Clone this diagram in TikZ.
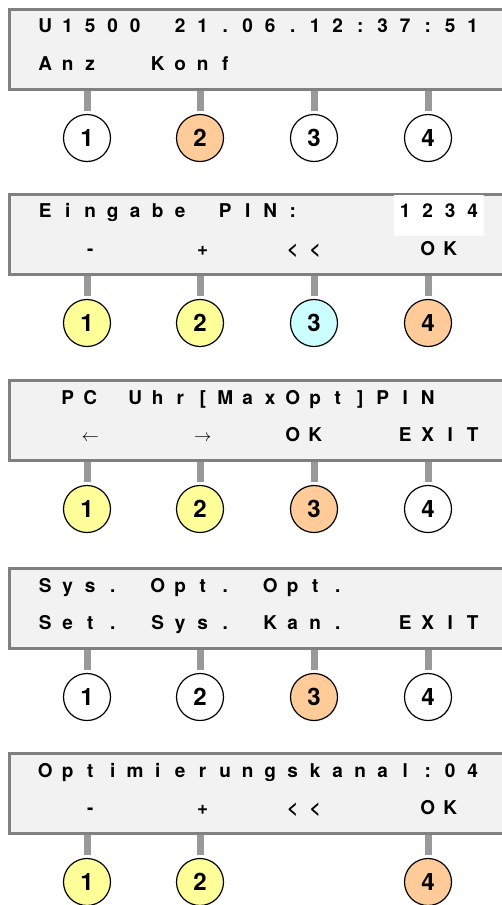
\documentclass[tikz,border=0pt]{standalone}
\usepackage{fontspec}
\setmainfont{TeX Gyre Heros}
\definecolor{lcdfill}{HTML}{F2F2F2}
\definecolor{lcdframe}{HTML}{808080}
\definecolor{stemgray}{HTML}{999999}
\definecolor{kyellow}{HTML}{FFFF99}
\definecolor{korange}{HTML}{FFCC99}
\definecolor{kcyan}{HTML}{CCFFFF}
\makeatletter
\def\lcd#1{\lcd@loop#1\relax}
\def\lcd@loop#1{\ifx\relax#1\else\lcd@cell{#1}\expandafter\lcd@loop\fi}
\def\lcd@cell#1{\ifx_#1\makebox[22.5pt]{}\else\makebox[22.5pt]{#1}\fi}
\makeatother
\def\la{$\leftarrow$}
\def\ra{$\rightarrow$}
\tikzset{
  lcdbox/.style={draw=lcdframe, fill=lcdfill, line width=3pt, minimum width=510pt, minimum height=80pt, anchor=north west, inner sep=0pt},
  lcdtext/.style={anchor=base west, inner sep=0pt, font=\fontsize{19}{19}\selectfont\bfseries},
  keybtn/.style={circle, draw=black, line width=1.2pt, minimum size=47pt, inner sep=0pt, font=\fontsize{24}{24}\selectfont\bfseries},
  stemline/.style={draw=stemgray, line width=7pt, shorten >=3pt},
  pinback/.style={fill=white, draw=none, inner sep=0pt, anchor=north west, minimum width=90pt, minimum height=41pt}
}
\begin{document}
\begin{tikzpicture}[x=1pt,y=-1pt]
\useasboundingbox (0,0) rectangle (502,905);
\clip (0,0) rectangle (502,905);
% ---------- panel 1
\node[lcdbox] (box1) at (8,8) {};
\node[lcdtext] (l1a) at (33.75,32.5) {\lcd{U1500_21.06.12:37:51}};
\node[lcdtext] (l1b) at (33.75,70) {\lcd{Anz__Konf}};
\node[keybtn, fill=white]   (k11) at (87,138) {1};
\node[keybtn, fill=korange] (k12) at (200,138) {2};
\node[keybtn, fill=white]   (k13) at (314,138) {3};
\node[keybtn, fill=white]   (k14) at (428,138) {4};
\foreach \k in {k11,k12,k13,k14} \draw[stemline] (box1.south -| \k.center) -- (\k.north);
% ---------- panel 2
\node[lcdbox] (box2) at (8,193) {};
\node[pinback] (pin2) at (393.75,194.5) {};
\node[lcdtext] (l2a) at (33.75,217.5) {\lcd{Eingabe_PIN:____1234}};
\node[lcdtext] (l2b) at (33.75,255) {\lcd{__-____+___<<____OK}};
\node[keybtn, fill=kyellow] (k21) at (87,323) {1};
\node[keybtn, fill=kyellow] (k22) at (200,323) {2};
\node[keybtn, fill=kcyan]   (k23) at (314,323) {3};
\node[keybtn, fill=korange] (k24) at (428,323) {4};
\foreach \k in {k21,k22,k23,k24} \draw[stemline] (box2.south -| \k.center) -- (\k.north);
% ---------- panel 3
\node[lcdbox] (box3) at (8,379) {};
\node[lcdtext] (l3a) at (33.75,404) {\lcd{_PC_Uhr[MaxOpt]PIN}};
\node[lcdtext] (l3b) at (33.75,441) {\lcd{__\la____\ra___OK___EXIT}};
\node[keybtn, fill=kyellow] (k31) at (87,509) {1};
\node[keybtn, fill=kyellow] (k32) at (200,509) {2};
\node[keybtn, fill=korange] (k33) at (314,509) {3};
\node[keybtn, fill=white]   (k34) at (428,509) {4};
\foreach \k in {k31,k32,k33,k34} \draw[stemline] (box3.south -| \k.center) -- (\k.north);
% ---------- panel 4
\node[lcdbox] (box4) at (8,567) {};
\node[lcdtext] (l4a) at (33.75,592) {\lcd{Sys._Opt._Opt.}};
\node[lcdtext] (l4b) at (33.75,629) {\lcd{Set._Sys._Kan.__EXIT}};
\node[keybtn, fill=white]   (k41) at (87,697) {1};
\node[keybtn, fill=white]   (k42) at (200,697) {2};
\node[keybtn, fill=korange] (k43) at (314,697) {3};
\node[keybtn, fill=white]   (k44) at (428,697) {4};
\foreach \k in {k41,k42,k43,k44} \draw[stemline] (box4.south -| \k.center) -- (\k.north);
% ---------- panel 5
\node[lcdbox] (box5) at (8,752) {};
\node[lcdtext] (l5a) at (33.75,777) {\lcd{Optimierungskanal:04}};
\node[lcdtext] (l5b) at (33.75,814) {\lcd{__-____+___<<____OK}};
\node[keybtn, fill=kyellow] (k51) at (87,882) {1};
\node[keybtn, fill=kyellow] (k52) at (200,882) {2};
\node[keybtn, fill=korange] (k54) at (428,882) {4};
\foreach \k in {k51,k52,k54} \draw[stemline] (box5.south -| \k.center) -- (\k.north);
\end{tikzpicture}
\end{document}
